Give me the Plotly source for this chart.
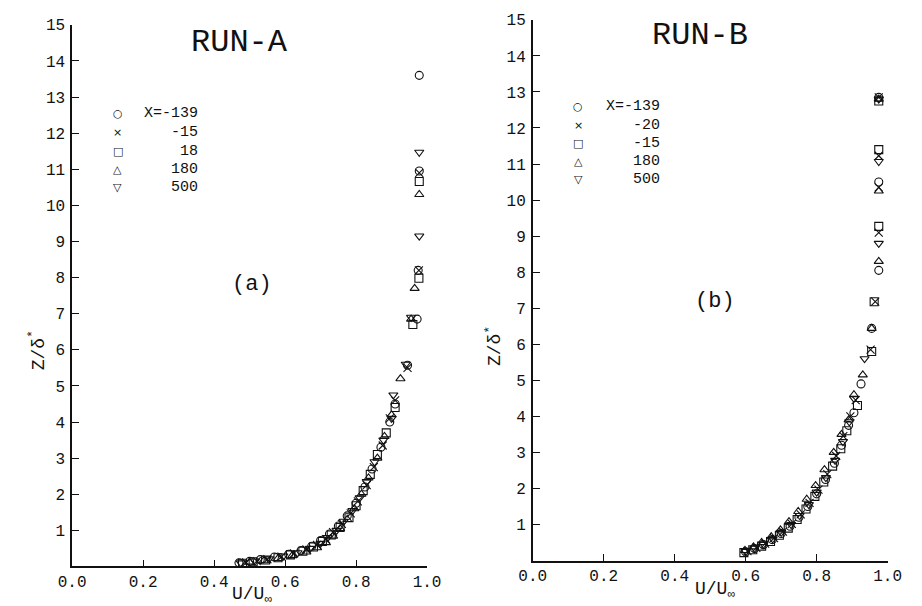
import plotly.graph_objects as go

W, H = 922, 606
FONT = "Liberation Mono"
INK = "#111111"

# ---------------- data: RUN-A (panel a) ----------------
a_labels = ["X=-139", "-15", "18", "180", "500"]
a_circle_u = [0.47, 0.50, 0.53, 0.57, 0.61, 0.645, 0.675, 0.70, 0.725, 0.75, 0.775, 0.80, 0.825, 0.845, 0.87, 0.895, 0.91, 0.945, 0.972, 0.975, 0.978, 0.978]
a_circle_z = [0.10, 0.14, 0.19, 0.26, 0.34, 0.44, 0.56, 0.72, 0.90, 1.12, 1.40, 1.75, 2.20, 2.70, 3.30, 4.00, 4.50, 5.57, 6.85, 8.20, 10.95, 13.6]
a_x_u = [0.49, 0.52, 0.55, 0.59, 0.625, 0.66, 0.69, 0.715, 0.735, 0.76, 0.785, 0.805, 0.83, 0.85, 0.875, 0.895, 0.91, 0.945, 0.977, 0.978]
a_x_z = [0.11, 0.15, 0.20, 0.27, 0.36, 0.47, 0.60, 0.76, 0.95, 1.18, 1.47, 1.80, 2.25, 2.75, 3.35, 4.10, 4.60, 5.50, 8.20, 10.9]
a_sq_u = [0.48, 0.51, 0.545, 0.58, 0.615, 0.65, 0.68, 0.705, 0.73, 0.755, 0.78, 0.80, 0.82, 0.84, 0.86, 0.885, 0.91, 0.96, 0.977, 0.978]
a_sq_z = [0.09, 0.13, 0.18, 0.24, 0.32, 0.42, 0.54, 0.69, 0.87, 1.08, 1.35, 1.68, 2.10, 2.55, 3.10, 3.70, 4.40, 6.70, 7.98, 10.66]
a_up_u = [0.50, 0.54, 0.58, 0.62, 0.66, 0.69, 0.715, 0.735, 0.755, 0.775, 0.795, 0.815, 0.835, 0.86, 0.88, 0.90, 0.925, 0.955, 0.965, 0.978]
a_up_z = [0.12, 0.16, 0.22, 0.30, 0.40, 0.52, 0.66, 0.84, 1.05, 1.30, 1.60, 2.00, 2.45, 3.00, 3.60, 4.20, 5.20, 6.85, 7.70, 10.3]
a_dn_u = [0.475, 0.515, 0.555, 0.595, 0.635, 0.67, 0.70, 0.72, 0.745, 0.765, 0.79, 0.81, 0.83, 0.852, 0.877, 0.90, 0.905, 0.94, 0.955, 0.978, 0.978]
a_dn_z = [0.10, 0.15, 0.21, 0.29, 0.38, 0.50, 0.64, 0.80, 1.00, 1.25, 1.55, 1.90, 2.35, 2.90, 3.50, 4.10, 4.75, 5.60, 6.90, 9.15, 11.47]

# ---------------- data: RUN-B (panel b) ----------------
b_labels = ["X=-139", "-20", "-15", "180", "500"]
b_circle_u = [0.60, 0.625, 0.65, 0.675, 0.70, 0.725, 0.75, 0.775, 0.80, 0.825, 0.85, 0.87, 0.89, 0.905, 0.925, 0.955, 0.975, 0.975, 0.975]
b_circle_z = [0.24, 0.33, 0.44, 0.58, 0.75, 0.95, 1.20, 1.50, 1.85, 2.25, 2.70, 3.20, 3.75, 4.10, 4.90, 6.44, 8.05, 10.5, 12.85]
b_x_u = [0.605, 0.63, 0.655, 0.68, 0.705, 0.73, 0.755, 0.78, 0.805, 0.83, 0.855, 0.875, 0.895, 0.91, 0.952, 0.965, 0.975, 0.975, 0.975, 0.975]
b_x_z = [0.26, 0.35, 0.47, 0.62, 0.80, 1.02, 1.28, 1.60, 1.97, 2.40, 2.90, 3.45, 4.00, 4.45, 5.85, 7.18, 9.10, 10.35, 11.23, 12.85]
b_sq_u = [0.595, 0.62, 0.645, 0.67, 0.695, 0.72, 0.745, 0.77, 0.795, 0.82, 0.845, 0.868, 0.885, 0.915, 0.955, 0.962, 0.975, 0.975, 0.975]
b_sq_z = [0.22, 0.30, 0.40, 0.53, 0.70, 0.90, 1.14, 1.43, 1.78, 2.18, 2.62, 3.10, 3.60, 4.30, 5.80, 7.18, 9.27, 11.4, 12.75]
b_up_u = [0.598, 0.622, 0.645, 0.672, 0.698, 0.722, 0.748, 0.772, 0.797, 0.822, 0.848, 0.87, 0.89, 0.905, 0.93, 0.955, 0.975, 0.975, 0.975]
b_up_z = [0.28, 0.38, 0.50, 0.66, 0.85, 1.08, 1.36, 1.70, 2.08, 2.52, 3.00, 3.50, 3.90, 4.60, 5.15, 6.44, 8.30, 10.25, 12.8]
b_dn_u = [0.60, 0.625, 0.65, 0.676, 0.70, 0.728, 0.752, 0.778, 0.80, 0.826, 0.852, 0.874, 0.892, 0.905, 0.935, 0.975, 0.975, 0.975]
b_dn_z = [0.25, 0.34, 0.45, 0.60, 0.78, 1.00, 1.25, 1.55, 1.90, 2.30, 2.78, 3.30, 3.85, 4.50, 5.60, 8.80, 11.07, 12.8]

x_ticks = [0.0, 0.2, 0.4, 0.6, 0.8, 1.0]
x_ticktext = ["0.0", "0.2", "0.4", "0.6", "0.8", "1.0"]
y_ticks = list(range(1, 16))

symbols = ["circle-open", "x-thin", "square-open", "triangle-up-open", "triangle-down-open"]
key_glyphs = ["○", "×", "□", "△", "▽"]

def P(x, y):
    return x / W, 1 - y / H

fig = go.Figure()

a_sets = [(a_circle_u, a_circle_z), (a_x_u, a_x_z), (a_sq_u, a_sq_z), (a_up_u, a_up_z), (a_dn_u, a_dn_z)]
b_sets = [(b_circle_u, b_circle_z), (b_x_u, b_x_z), (b_sq_u, b_sq_z), (b_up_u, b_up_z), (b_dn_u, b_dn_z)]

for (u, z), sym, lab in zip(a_sets, symbols, a_labels):
    fig.add_trace(go.Scatter(x=u, y=z, mode="markers", name="RUN-A " + lab, showlegend=False,
                             xaxis="x", yaxis="y",
                             marker=dict(symbol=sym, size=8, color=INK, line=dict(color=INK, width=1.1))))
for (u, z), sym, lab in zip(b_sets, symbols, b_labels):
    fig.add_trace(go.Scatter(x=u, y=z, mode="markers", name="RUN-B " + lab, showlegend=False,
                             xaxis="x2", yaxis="y2",
                             marker=dict(symbol=sym, size=8, color=INK, line=dict(color=INK, width=1.1))))

axis_common = dict(showline=True, linecolor=INK, linewidth=1.5, ticks="inside", ticklen=7,
                   tickwidth=1.2, tickcolor=INK, showgrid=False, zeroline=False,
                   tickfont=dict(family=FONT, size=16, color=INK))

fig.update_layout(
    width=W, height=H, margin=dict(l=0, r=0, t=0, b=0),
    paper_bgcolor="white", plot_bgcolor="white", showlegend=False,
    xaxis=dict(domain=[60 / W, 426 / W], range=[0, 1], tickvals=x_ticks, ticktext=x_ticktext,
               anchor="y", **axis_common),
    yaxis=dict(domain=[40 / H, 588 / H], range=[0, 15], tickvals=y_ticks, anchor="x",
               ticklabelstandoff=2, **axis_common),
    xaxis2=dict(domain=[535 / W, 901 / W], range=[0, 1], tickvals=x_ticks, ticktext=x_ticktext,
                anchor="y2", **axis_common),
    yaxis2=dict(domain=[46 / H, 593 / H], range=[0, 15], tickvals=y_ticks, anchor="x2",
                ticklabelstandoff=2, **axis_common),
)

ann = []
def text(x, y, s, size, xanchor="center", angle=0, family=FONT):
    px_, py_ = P(x, y)
    ann.append(dict(x=px_, y=py_, xref="paper", yref="paper", text=s, showarrow=False,
                    xanchor=xanchor, yanchor="middle", textangle=angle, borderpad=0,
                    font=dict(family=family, size=size, color=INK)))

text(233, 36, "RUN-A", 32)
text(708, 29, "RUN-B", 32)
text(245, 281, "(a)", 22)
text(723, 298, "(b)", 22)
text(25, 347, "Z/δ<sup>*</sup>", 18, angle=-90)
text(495, 343, "Z/δ<sup>*</sup>", 18, angle=-90)
text(245, 595, "U/U<sub>∞</sub>", 18)
text(723, 590, "U/U<sub>∞</sub>", 18)

a_rows = [108, 127, 146, 164.5, 183]
b_rows = [101, 119.5, 138, 156.5, 175]
for g, lab, r in zip(key_glyphs, a_labels, a_rows):
    text(107, r, g, 11, family="DejaVu Sans")
    text(191, r, lab, 15, xanchor="right")
for g, lab, r in zip(key_glyphs, b_labels, b_rows):
    text(582, r, g, 11, family="DejaVu Sans")
    text(667, r, lab, 15, xanchor="right")

fig.update_layout(annotations=ann)
fig.write_html("out.html")
